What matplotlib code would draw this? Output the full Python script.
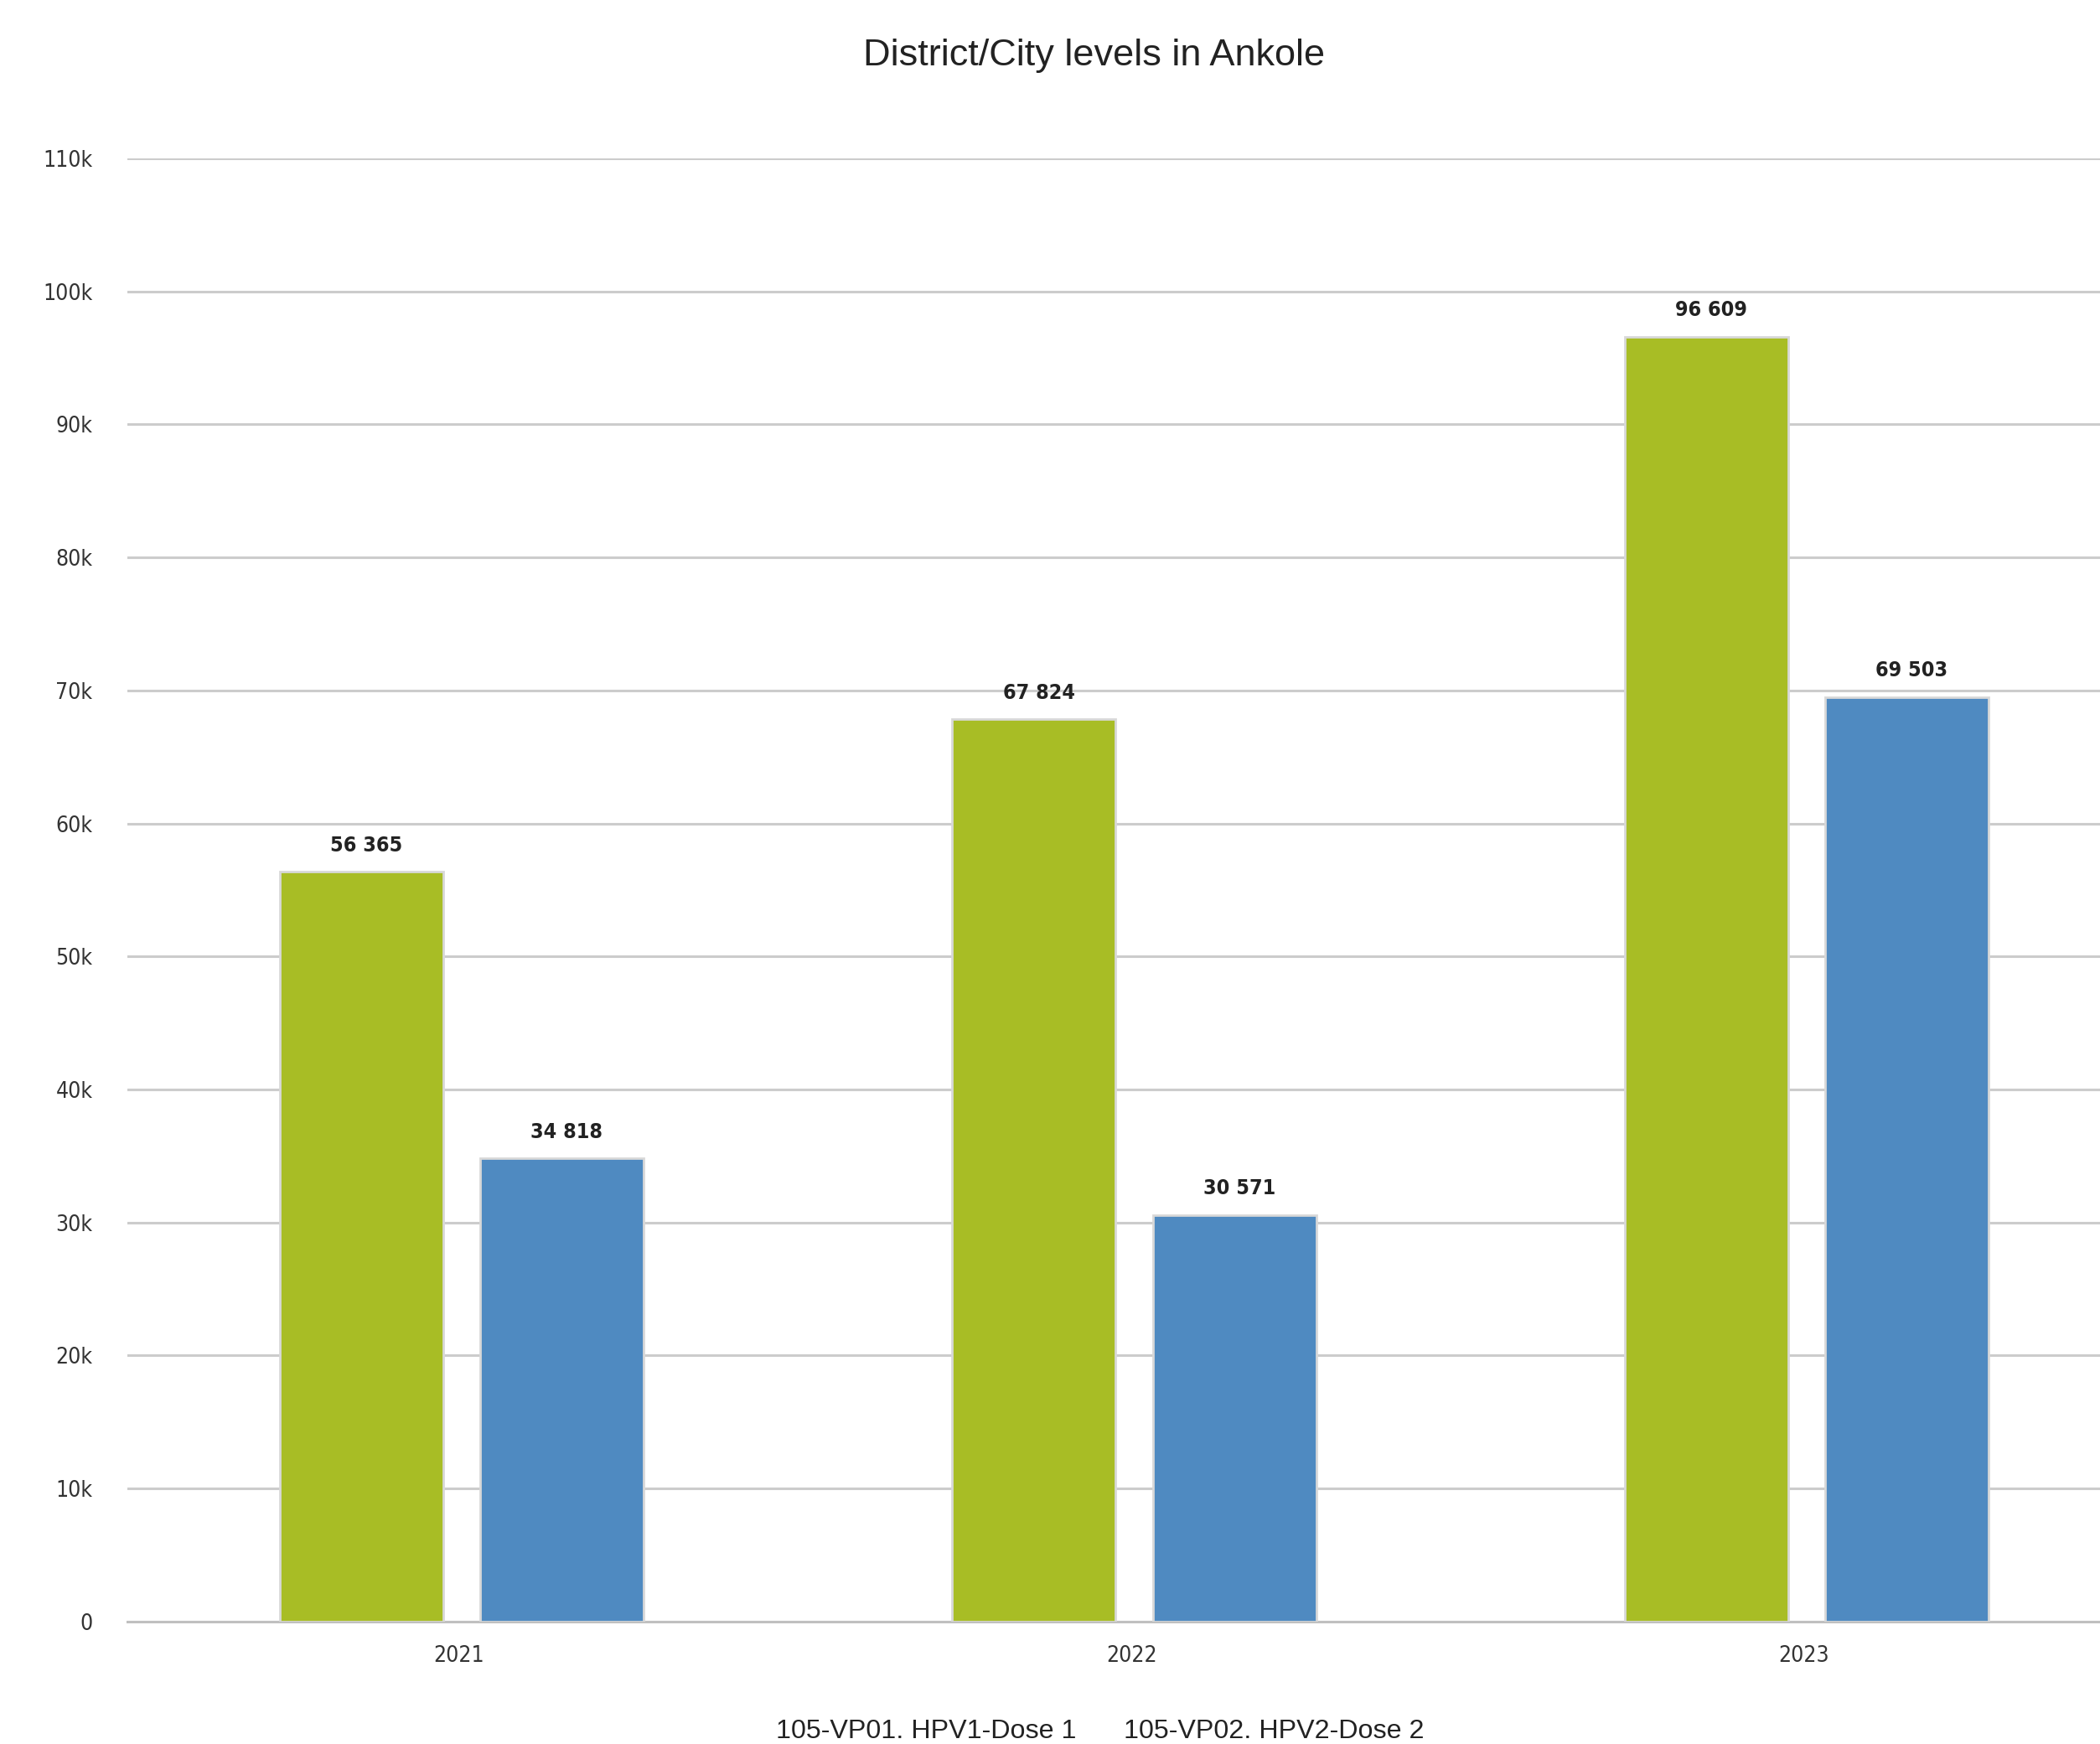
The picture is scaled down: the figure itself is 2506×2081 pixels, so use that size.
import numpy as np
import matplotlib.pyplot as plt
from matplotlib.ticker import FuncFormatter

years = ["2021", "2022", "2023"]
series_names = ["105-VP01. HPV1-Dose 1", "105-VP02. HPV2-Dose 2"]
dose1 = [56365, 67824, 96609]
dose2 = [34818, 30571, 69503]
colors = ["#a8bd25", "#4f8ac1"]

sans = ["Liberation Sans", "DejaVu Sans"]

fig = plt.figure(figsize=[25.06, 20.81], dpi=100)
ax = fig.add_axes([0.0607, 0.0702, 0.9393, 0.839])

x = np.arange(len(years))
width = 0.243
offset = 0.149
for vals, off, col, name in zip([dose1, dose2], [-offset, offset], colors, series_names):
    bars = ax.bar(x + off + 0.004, vals, width, color=col, edgecolor="#d8d8d8", linewidth=2,
                  label=name, zorder=3)
    for b, v in zip(bars, vals):
        ax.annotate(f"{v:,}".replace(",", " "), (b.get_x() + b.get_width() / 2, v),
                    xytext=(4, 14), textcoords="offset points", ha="center", va="bottom",
                    fontsize=18, fontweight="bold", family="DejaVu Sans", stretch="condensed",
                    color="#222222")

ax.set_xlim(-0.493, 2.44)
ax.set_ylim(0, 110000)
ax.set_yticks(np.arange(0, 110001, 10000))
ax.yaxis.set_major_formatter(FuncFormatter(lambda v, p: "0" if v == 0 else f"{int(v/1000)}k"))
ax.set_xticks(x)
ax.set_xticklabels(years)
for lbl in ax.get_xticklabels() + ax.get_yticklabels():
    lbl.set_family("DejaVu Sans")
    lbl.set_stretch("condensed")
    lbl.set_fontsize(19)
    lbl.set_color("#333333")
ax.tick_params(axis="both", length=0)
ax.tick_params(axis="y", pad=30)
ax.tick_params(axis="x", pad=20)

ax.grid(True, axis="y", color="#cccccc", linewidth=2.2, zorder=0)
for s in ["top", "right", "left"]:
    ax.spines[s].set_visible(False)
ax.spines["bottom"].set_color("#c0c0c0")
ax.spines["bottom"].set_linewidth(2.2)

fig.text(0.521, 0.968, "District/City levels in Ankole", ha="center", va="center",
         fontsize=32.5, family=sans, color="#222222")

leg = ax.legend(loc="center", bbox_to_anchor=(0.524, 0.007), bbox_transform=fig.transFigure,
                ncol=2, frameon=False, handlelength=0, handletextpad=0, columnspacing=1.75,
                prop={"family": sans, "size": 23.2})
for h in leg.legend_handles:
    h.set_visible(False)
for t in leg.get_texts():
    t.set_color("#222222")

plt.savefig("out.png", dpi=100)
